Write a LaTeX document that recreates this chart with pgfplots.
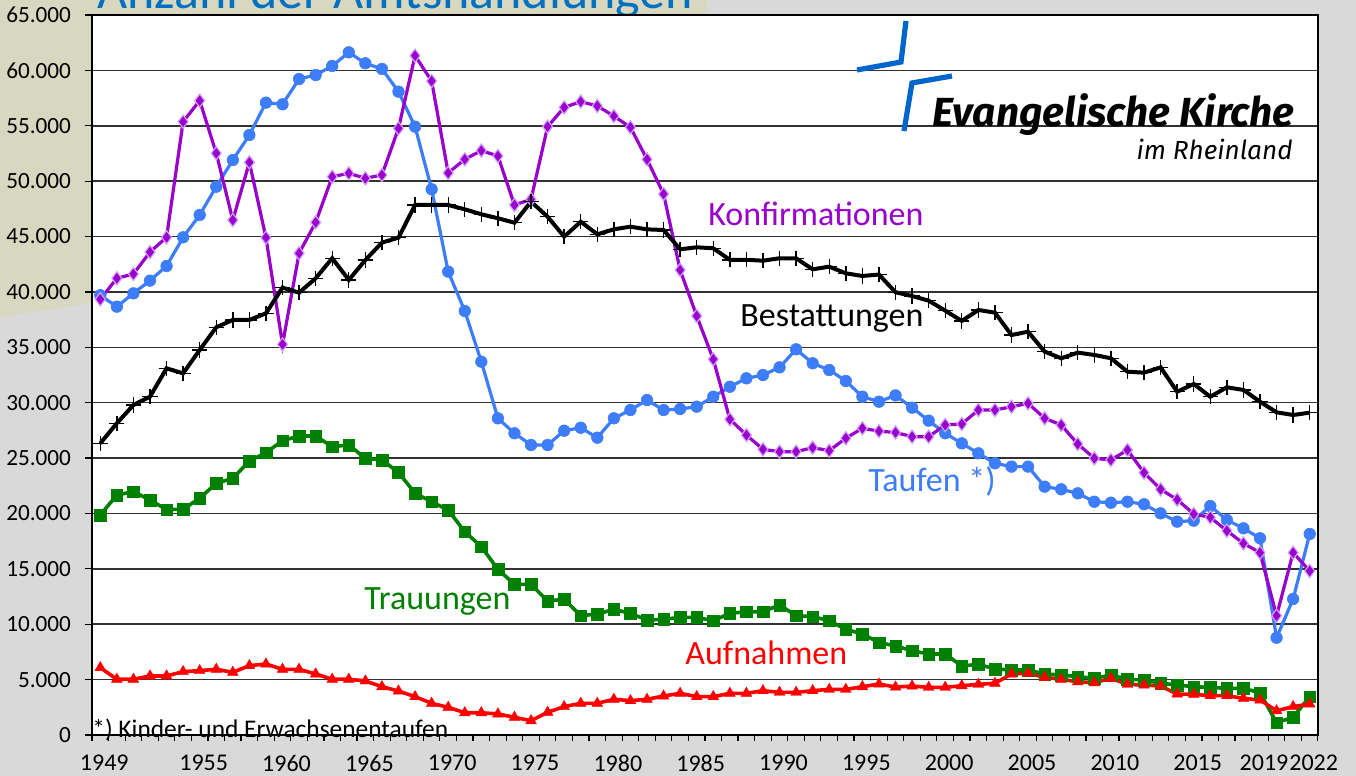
\documentclass[border=0pt]{standalone}
\usepackage{pgfplots}
\pgfplotsset{compat=1.18}
\usepackage{pgfplotstable}
\usepackage{graphicx}
\usepackage{fontspec}
\setmainfont{Carlito}
\newfontfamily\logofont{Fira Sans}

\definecolor{bggray}{RGB}{217,217,217}
\definecolor{beige}{RGB}{216,215,192}
\definecolor{taufblue}{RGB}{62,125,250}
\definecolor{konfpurple}{RGB}{153,0,204}
\definecolor{konfedge}{RGB}{210,160,255}
\definecolor{trgreen}{RGB}{0,128,0}
\definecolor{aufred}{RGB}{255,0,0}
\definecolor{logoblue}{RGB}{0,102,204}
\definecolor{titleblue}{RGB}{0,112,192}
\definecolor{gridgray}{RGB}{50,50,50}

\pgfplotstableread{
year tauf konf best trau aufn
1949 39700 39330 26330 19860 6080
1950 38670 41230 28140 21670 5030
1951 39870 41620 29790 21970 5030
1952 41020 43600 30540 21220 5330
1953 42340 44930 33100 20350 5330
1954 44930 55370 32650 20380 5720
1955 46950 57270 34760 21370 5810
1956 49500 52520 36810 22720 5930
1957 51910 46490 37470 23170 5660
1958 54170 51700 37470 24740 6260
1959 57090 44900 38070 25490 6410
1960 56940 35270 40390 26570 5930
1961 59220 43490 39930 26990 5930
1962 59580 46280 41230 26990 5510
1963 60400 50400 43040 26030 5030
1964 61630 50710 41080 26180 5030
1965 60640 50260 42880 24980 4880
1966 60130 50560 44450 24830 4360
1967 58080 54770 44900 23710 3970
1968 54920 61330 47850 21820 3460
1969 49270 59040 47850 21060 2860
1970 41830 50740 47850 20310 2500
1971 38280 51970 47460 18350 2010
1972 33700 52760 47010 17000 2010
1973 28590 52270 46650 14960 1900
1974 27240 47850 46250 13600 1600
1975 26180 48360 48150 13600 1290
1976 26180 54920 46790 12100 2050
1977 27470 56660 44990 12250 2560
1978 27740 57180 46340 10770 2860
1979 26840 56790 45200 10920 2860
1980 28590 55880 45650 11340 3220
1981 29340 54860 45890 10980 3100
1982 30240 51970 45650 10380 3220
1983 29340 48840 45590 10440 3520
1984 29430 41980 43850 10620 3760
1985 29640 37830 44030 10620 3460
1986 30540 33920 43940 10320 3460
1987 31440 28500 42900 10980 3760
1988 32200 27080 42900 11130 3760
1989 32500 25790 42820 11130 4000
1990 33190 25580 43040 11740 3850
1991 34820 25580 43040 10770 3850
1992 33560 25940 42040 10680 4000
1993 32950 25670 42280 10320 4120
1994 31960 26790 41680 9540 4120
1995 30540 27690 41440 9120 4360
1996 30090 27430 41570 8350 4600
1997 30660 27310 39970 8040 4330
1998 29550 26930 39630 7610 4420
1999 28380 26930 39210 7310 4300
2000 27240 27990 38310 7310 4300
2001 26330 28080 37380 6230 4450
2002 25430 29340 38370 6380 4570
2003 24530 29340 38130 5960 4670
2004 24230 29640 36110 5870 5510
2005 24230 29940 36410 5870 5570
2006 22420 28590 34610 5510 5210
2007 22180 27990 34010 5420 5030
2008 21820 26270 34520 5270 4810
2009 21060 24980 34310 5120 4720
2010 20970 24830 34010 5420 5120
2011 21060 25730 32800 5030 4570
2012 20830 23680 32710 4970 4510
2013 20010 22180 33190 4670 4420
2014 19260 21250 30990 4510 3700
2015 19350 19950 31690 4360 3670
2016 20670 19650 30540 4300 3550
2017 19410 18440 31390 4210 3550
2018 18660 17300 31150 4210 3310
2019 17760 16460 30090 3820 3160
2020 8780 10770 29130 1110 2190
2021 12280 16460 28890 1600 2560
2022 18150 14810 29100 3460 2800
}\amtdata

\begin{document}
\begin{tikzpicture}
\path[use as bounding box] (0,0) rectangle (678pt,388pt);
\fill[bggray] (0,0) rectangle (678pt,388pt);
\begin{scope}
\clip (0,0) rectangle (678pt,388pt);
\begin{scope}[x=0.5pt,y=-0.5pt,yshift=388pt]
\fill[beige] (0,0) -- (707,0) -- (707,200) -- (92,303) -- (0,317) -- cycle;
\begin{pgfinterruptboundingbox}
\node[anchor=base west, inner sep=0, text=titleblue, font=\fontsize{26}{30}\selectfont] at (97,9) {Anzahl der Amtshandlungen};
\end{pgfinterruptboundingbox}
\end{scope}
\end{scope}

\begin{axis}[
  at={(46pt,20.5pt)}, anchor=south west, scale only axis,
  width=613pt, height=360pt,
  xmin=1948.5, xmax=2022.5, ymin=0, ymax=65000,
  axis background/.style={fill=white},
  axis line style={black, line width=0.6pt},
  ytick={0,5000,...,65000},
  yticklabels={0,5.000,10.000,15.000,20.000,25.000,30.000,35.000,40.000,45.000,50.000,55.000,60.000,65.000},
  xtick={1949,1955,1960,1965,1970,1975,1980,1985,1990,1995,2000,2005,2010,2015,2019,2022},
  xticklabels={1949,1955,1960,1965,1970,1975,1980,1985,1990,1995,2000,2005,2010,2015,2019,2022},
  minor xtick={1948.5,1949.5,...,2022.5},
  ymajorgrids,
  grid style={gridgray, line width=0.75pt},
  major x tick style={draw=none},
  tick align=outside, tick pos=left,
  major tick length=3.5pt, minor tick length=3pt,
  tick style={black, line width=0.6pt},
  /pgf/number format/assume math mode=true,
  ticklabel style={font=\fontsize{12}{14}\selectfont},
  xticklabel style={xshift=2pt, yshift=-3pt},
  yticklabel style={xshift=-3.5pt, font=\fontsize{11.6}{14}\selectfont},
  scaled y ticks=false,
  clip=false,
]
\addplot[taufblue, line width=1.6pt, mark=*, mark size=2.9pt, mark options={fill=taufblue, draw=taufblue, line width=0.3pt}] table[x=year,y=tauf]{\amtdata};
\addplot[konfpurple, line width=1.6pt, mark=diamond*, mark size=3.3pt, mark options={fill=konfpurple, draw=konfedge, line width=0.6pt}] table[x=year,y=konf]{\amtdata};
\addplot[black, line width=2pt, mark=+, mark size=3.8pt, mark options={line width=0.7pt}] table[x=year,y=best]{\amtdata};
\addplot[trgreen, line width=1.8pt, mark=square*, mark size=2.9pt, mark options={fill=trgreen, draw=trgreen, line width=0.2pt}] table[x=year,y=trau]{\amtdata};
\addplot[aufred, line width=1.8pt, mark=triangle*, mark size=3.1pt, mark options={fill=aufred, draw=aufred, line width=0.2pt}] table[x=year,y=aufn]{\amtdata};
\end{axis}

\begin{scope}[x=0.5pt,y=-0.5pt,yshift=388pt]
\node[anchor=base west, inner sep=0, text=konfpurple, font=\fontsize{17}{20}\selectfont] at (708,226) {Konfirmationen};
\node[anchor=base west, inner sep=0, text=black, font=\fontsize{17}{20}\selectfont] at (740,327) {Bestattungen};
\node[anchor=base west, inner sep=0, text=taufblue, font=\fontsize{17}{20}\selectfont] at (868,492) {Taufen *)};
\node[anchor=base west, inner sep=0, text=trgreen, font=\fontsize{17}{20}\selectfont] at (364,610) {Trauungen};
\node[anchor=base west, inner sep=0, text=aufred, font=\fontsize{17}{20}\selectfont] at (685,665) {Aufnahmen};
\node[anchor=base west, inner sep=0, text=black, font=\fontsize{12.7}{15}\selectfont] at (92,738) {*) Kinder- und Erwachsenentaufen};
\draw[logoblue, line width=2.6pt] (857,70) -- (901,62) -- (906,21);
\draw[logoblue, line width=2.6pt] (952,76) -- (912,83) -- (904,131);
\node[anchor=base east, inner sep=0] at (1295,127) {\resizebox{181pt}{!}{\logofont\bfseries\itshape Evangelische Kirche}};
\node[anchor=base east, inner sep=0] at (1293,160) {\resizebox{78pt}{!}{\logofont\itshape im Rheinland}};
\end{scope}
\end{tikzpicture}
\end{document}
